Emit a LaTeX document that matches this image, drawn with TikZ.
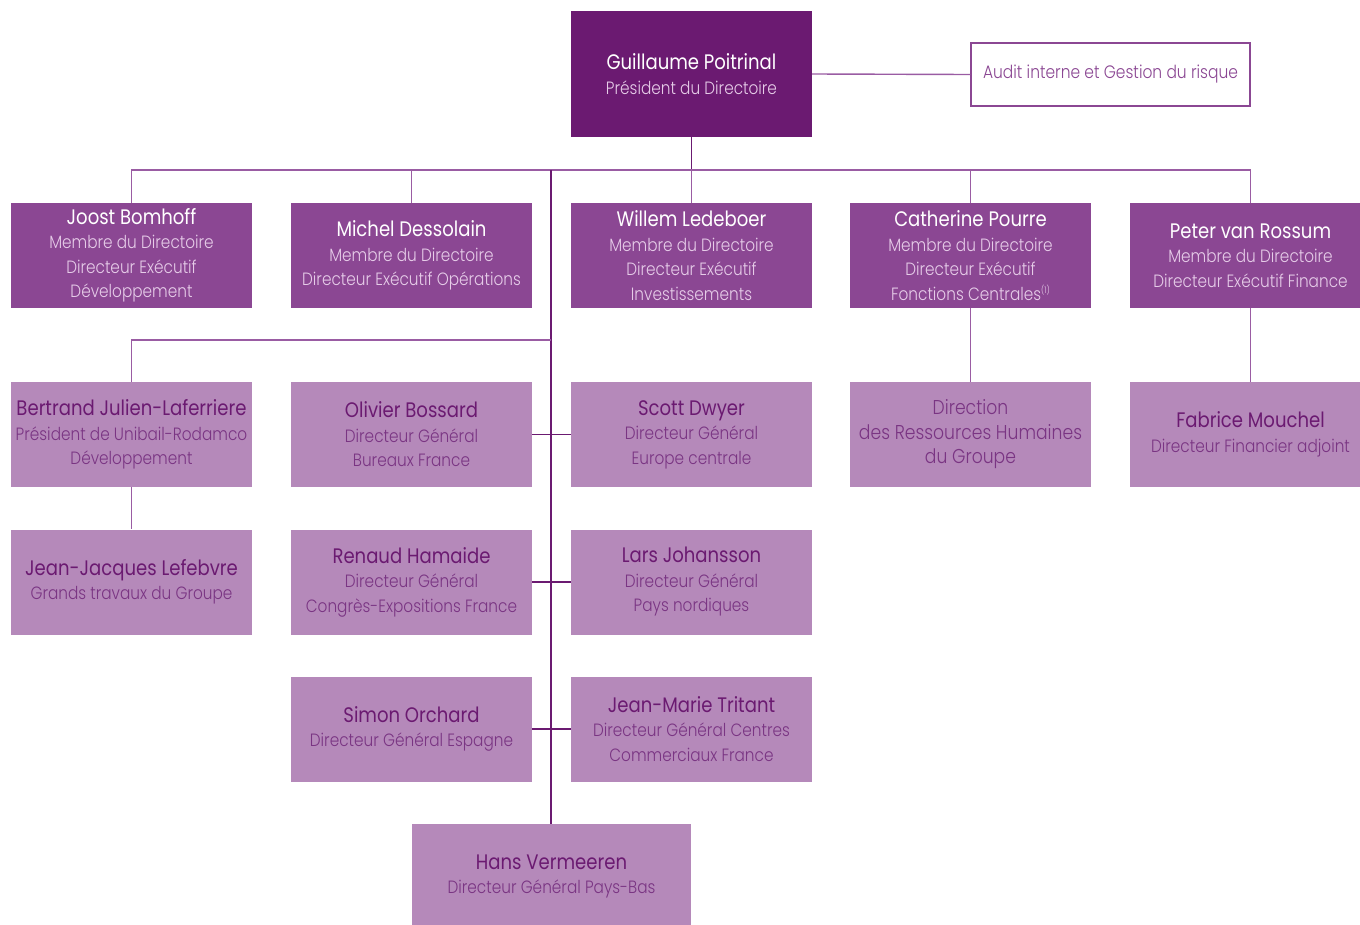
\documentclass[tikz,border=0pt]{standalone}
\usepackage{fontspec}
\newfontfamily\nmfont{Poppins}[FakeStretch=0.86]
\newfontfamily\ltfont{Poppins Light}[FakeStretch=0.86]
\definecolor{cdark}{HTML}{6B1A71}
\definecolor{cmid}{HTML}{8B4793}
\definecolor{clight}{HTML}{B589BA}
\definecolor{csubA}{HTML}{E6CCE8}
\definecolor{csubB}{HTML}{7A3583}
\definecolor{cline}{HTML}{9A5CA3}
\newcommand{\nmA}[1]{{\nmfont\fontsize{21}{24.5}\selectfont #1}}
\tikzset{
  boxbase/.style={rectangle, inner sep=0pt, minimum width=241pt, minimum height=105pt, align=center,
    font=\ltfont\fontsize{17.8}{24.5}\selectfont},
  topbox/.style={boxbase, fill=cdark, text=csubA, minimum height=126pt},
  lvltwo/.style={boxbase, fill=cmid, text=csubA},
  lvlthree/.style={boxbase, fill=clight, text=csubB},
  auditbox/.style={rectangle, draw=cmid, line width=1.2pt, fill=white, minimum width=279pt, minimum height=63pt,
    text=cmid, font=\ltfont\fontsize{18}{20}\selectfont},
  conn/.style={draw=cline, line width=1.4pt},
  trunk/.style={draw=cdark, line width=1.4pt}
}
\newcommand{\nmW}[1]{{\color{white}\nmA{#1}}}
\newcommand{\nmD}[1]{{\color{cdark}\nmA{#1}}}
\begin{document}
\begin{tikzpicture}[x=1pt,y=-1pt]
\useasboundingbox (0,0) rectangle (1360,924);
% nodes
\node[topbox] (top) at (691.5,74) {\nmW{Guillaume Poitrinal}\\Président du Directoire};
\node[auditbox] (audit) at (1110.5,74.5) {Audit interne et Gestion du risque};

\node[lvltwo] (joost) at (131.5,255.5) {\nmW{Joost Bomhoff}\\Membre du Directoire\\Directeur Exécutif\\Développement};
\node[lvltwo] (michel) at (411.5,255.5) {\nmW{Michel Dessolain}\\Membre du Directoire\\Directeur Exécutif Opérations};
\node[lvltwo] (willem) at (691.5,255.5) {\nmW{Willem Ledeboer}\\Membre du Directoire\\Directeur Exécutif\\Investissements};
\node[lvltwo] (cath) at (970.5,255.5) {\nmW{Catherine Pourre}\\Membre du Directoire\\Directeur Exécutif\\Fonctions Centrales{\fontsize{9}{9}\selectfont\raisebox{7pt}{(1)}}};
\node[lvltwo] (peter) at (1250.5,255.5) {\nmW{Peter van Rossum}\\Membre du Directoire\\Directeur Exécutif Finance};

\node[lvlthree] (bert) at (131.5,434.5) {\nmD{Bertrand Julien-Laferriere}\\Président de Unibail-Rodamco\\Développement};
\node[lvlthree] (olivier) at (411.5,434.5) {\nmD{Olivier Bossard}\\Directeur Général\\Bureaux France};
\node[lvlthree] (scott) at (691.5,434.5) {\nmD{Scott Dwyer}\\Directeur Général\\Europe centrale};
\node[lvlthree, font=\ltfont\fontsize{20}{24.5}\selectfont] (drh) at (970.5,434.5) {Direction\\des Ressources Humaines\\du Groupe};
\node[lvlthree] (fabrice) at (1250.5,434.5) {\nmD{Fabrice Mouchel}\\Directeur Financier adjoint};

\node[lvlthree] (jj) at (131.5,582) {\nmD{Jean-Jacques Lefebvre}\\Grands travaux du Groupe};
\node[lvlthree] (renaud) at (411.5,582) {\nmD{Renaud Hamaide}\\Directeur Général\\Congrès-Expositions France};
\node[lvlthree] (lars) at (691.5,582) {\nmD{Lars Johansson}\\Directeur Général\\Pays nordiques};

\node[lvlthree] (simon) at (411.5,729) {\nmD{Simon Orchard}\\Directeur Général Espagne};
\node[lvlthree] (jm) at (691.5,729) {\nmD{Jean-Marie Tritant}\\Directeur Général Centres\\Commerciaux France};

\node[lvlthree, minimum width=279pt] (hans) at (551.5,876.5) {\nmD{Hans Vermeeren}\\Directeur Général Pays-Bas};

% connectors
\coordinate (bus) at (691.5,170);
\coordinate (bus2) at (551,340);
\path[conn] (top.east) -- (audit.west);
\path[trunk] (top.south) -- (bus);
\path[conn] (joost.north) |- (bus) -| (peter.north);
\path[conn] (michel.north) -- (michel.north |- bus);
\path[conn] (willem.north) -- (bus);
\path[conn] (cath.north) -- (cath.north |- bus);
\path[trunk] (hans.north -| bus2) -- (bus2 |- bus);
\path[conn] (bert.north) |- (bus2);
\path[conn] (bert.south) -- (jj.north);
\path[conn] (cath.south) -- (drh.north);
\path[conn] (peter.south) -- (fabrice.north);
\path[trunk] (olivier.east) -- (scott.west);
\path[trunk] (renaud.east) -- (lars.west);
\path[trunk] (simon.east) -- (jm.west);
\end{tikzpicture}
\end{document}
